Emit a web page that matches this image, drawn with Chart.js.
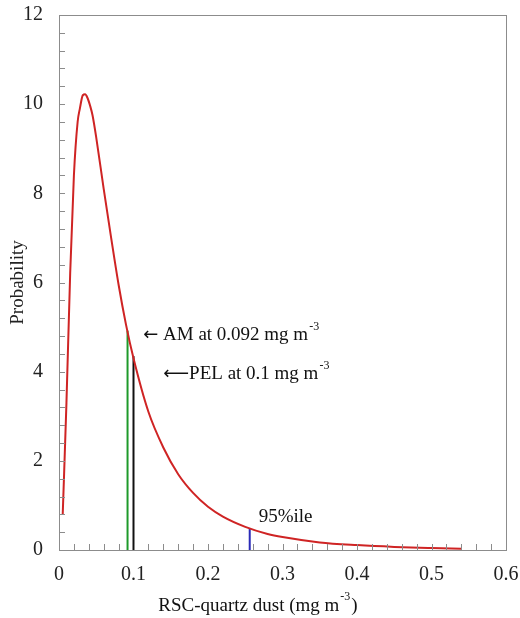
<!DOCTYPE html>
<html>
<head>
<meta charset="utf-8">
<script src="https://cdn.jsdelivr.net/npm/chart.js@4/dist/chart.umd.min.js"></script>
<style>
  html, body { margin: 0; padding: 0; background: #fff; }
  #wrap { width: 520px; height: 618px; }
</style>
</head>
<body>
<div id="wrap"><canvas id="myChart" width="520" height="618"></canvas></div>
<script>
// Curve (concentration in mg m-3, probability density)
const curveX = [0.005, 0.01, 0.015, 0.02, 0.025, 0.028, 0.032, 0.035, 0.038, 0.042, 0.045, 0.05, 0.06, 0.07, 0.08, 0.09, 0.1, 0.12, 0.14, 0.16, 0.18, 0.2, 0.22, 0.25, 0.28, 0.3, 0.35, 0.4, 0.45, 0.5, 0.54];
const curveY = [0.8, 3.3, 6.2, 8.4, 9.6, 9.9, 10.2, 10.22, 10.15, 9.95, 9.75, 9.25, 8.1, 7.0, 5.95, 5.05, 4.3, 3.1, 2.3, 1.7, 1.28, 0.97, 0.75, 0.52, 0.36, 0.29, 0.17, 0.11, 0.07, 0.045, 0.03];

// Vertical markers: AM, PEL, 95th percentile
const markerX = [0.092, 0.1, 0.256];
const markerTop = [4.92, 4.35, 0.49];
const markerColors = ['#1e9a2a', '#111111', '#2a2ab8'];

// Annotation texts (arrow, main part, superscript) and their anchor in data units
const noteArrow = ['\u2190', '\u27F5', ''];
const noteText = [' AM at 0.092 mg m', 'PEL at 0.1 mg m', '95%ile'];
const noteSup = ['-3', '-3', ''];
const noteX = [0.113, 0.14, 0.268];
const noteY = [4.82, 3.95, 0.74];

const xTickLabels = ['0', '0.1', '0.2', '0.3', '0.4', '0.5', '0.6'];
const yTickLabels = ['0', '2', '4', '6', '8', '10', '12'];

const serif = '"Liberation Serif", "Times New Roman", serif';
const axisGray = '#8c8c8c';

// Box, inward ticks, annotations and x-axis title
const decorPlugin = {
    id: 'decor',
    afterDraw(chart) {
        const { ctx, chartArea: a, scales: { x, y } } = chart;
        ctx.save();
        ctx.strokeStyle = axisGray;
        ctx.lineWidth = 1;
        ctx.strokeRect(a.left + 0.5, a.top + 0.5, a.right - a.left, a.bottom - a.top);

        // inward minor ticks
        ctx.beginPath();
        for (let i = 1; i < 30; i++) {
            const px = Math.round(x.getPixelForValue(i * 0.02)) + 0.5;
            ctx.moveTo(px, a.bottom);
            ctx.lineTo(px, a.bottom - 6);
        }
        for (let i = 1; i < 30; i++) {
            const py = Math.round(y.getPixelForValue(i * 0.4)) + 0.5;
            ctx.moveTo(a.left, py);
            ctx.lineTo(a.left + 6, py);
        }
        ctx.stroke();

        // annotations
        ctx.fillStyle = '#111';
        ctx.textBaseline = 'middle';
        ctx.textAlign = 'left';
        noteText.forEach((t, i) => {
            let px = x.getPixelForValue(noteX[i]);
            const py = y.getPixelForValue(noteY[i]);
            if (noteArrow[i]) {
                ctx.font = '18px "DejaVu Sans", sans-serif';
                ctx.fillText(noteArrow[i], px, py);
                px += ctx.measureText(noteArrow[i]).width;
            }
            ctx.font = '19px ' + serif;
            ctx.fillText(t, px, py);
            if (noteSup[i]) {
                const w = ctx.measureText(t).width;
                ctx.font = '12px ' + serif;
                ctx.fillText(noteSup[i], px + w + 1, py - 8);
            }
        });

        // x-axis title with superscript
        const t1 = 'RSC-quartz dust (mg m';
        const t2 = ')';
        ctx.font = '12px ' + serif;
        const ws = ctx.measureText('-3').width;
        ctx.font = '19px ' + serif;
        const w1 = ctx.measureText(t1).width;
        const w2 = ctx.measureText(t2).width;
        const total = w1 + ws + 2 + w2;
        const sx = 258 - total / 2;
        const ty = 606;
        ctx.fillText(t1, sx, ty);
        ctx.font = '12px ' + serif;
        ctx.fillText('-3', sx + w1 + 1, ty - 9);
        ctx.font = '19px ' + serif;
        ctx.fillText(t2, sx + w1 + ws + 2, ty);
        ctx.restore();
    }
};

function drawChart() {
    const ctx = document.getElementById('myChart').getContext('2d');

    const datasets = [{
        label: 'Probability',
        data: curveX.map((v, i) => ({ x: v, y: curveY[i] })),
        borderColor: '#cf2424',
        borderWidth: 2,
        pointRadius: 0,
        showLine: true,
        cubicInterpolationMode: 'monotone',
        order: 0
    }];
    markerX.forEach((v, i) => {
        datasets.push({
            label: 'marker' + i,
            data: [{ x: v, y: 0 }, { x: v, y: markerTop[i] }],
            borderColor: markerColors[i],
            borderWidth: 2,
            pointRadius: 0,
            showLine: true,
            order: 1
        });
    });

    new Chart(ctx, {
        type: 'scatter',
        data: { datasets },
        options: {
            responsive: false,
            animation: false,
            layout: { padding: { left: 7, top: 15, right: 14, bottom: 0 } },
            scales: {
                x: {
                    type: 'linear',
                    min: 0,
                    max: 0.6,
                    grid: { display: false, drawTicks: false },
                    border: { display: false },
                    ticks: {
                        stepSize: 0.1,
                        padding: 13,
                        color: '#222',
                        font: { family: serif, size: 20 },
                        callback: (v) => xTickLabels[Math.round(v * 10)]
                    },
                    afterFit: (s) => { s.height = 68; s.paddingLeft = 0; s.paddingRight = 0; }
                },
                y: {
                    min: 0,
                    max: 12,
                    grid: { display: false, drawTicks: false },
                    border: { display: false },
                    title: {
                        display: true,
                        text: 'Probability',
                        color: '#222',
                        font: { family: serif, size: 19 },
                        padding: 0
                    },
                    ticks: {
                        stepSize: 2,
                        padding: 16,
                        color: '#222',
                        font: { family: serif, size: 20 },
                        callback: (v) => yTickLabels[Math.round(v / 2)]
                    },
                    afterFit: (s) => { s.width = 52; s.paddingTop = 0; s.paddingBottom = 0; }
                }
            },
            plugins: {
                legend: { display: false },
                tooltip: { enabled: false }
            }
        },
        plugins: [decorPlugin]
    });
}

drawChart();
</script>
</body>
</html>
